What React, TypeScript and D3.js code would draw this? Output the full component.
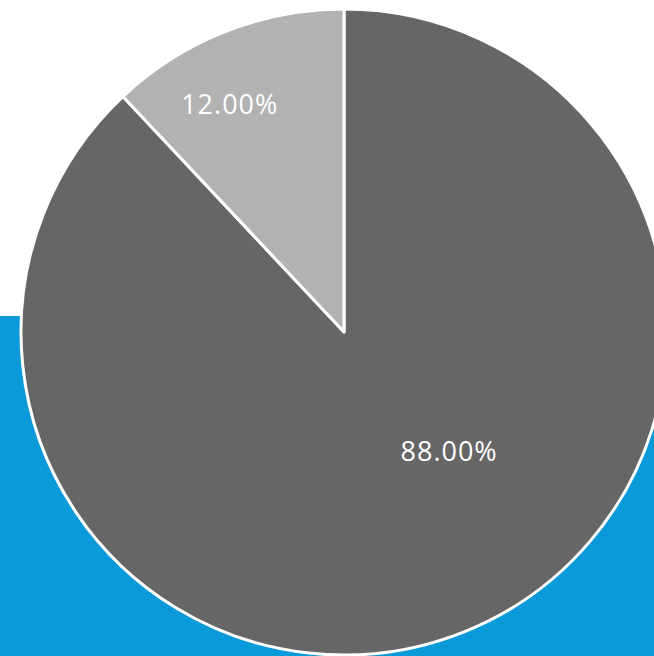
import * as d3 from "d3";
import React from "react";

const categories = ["A", "B"];
const values = [88, 12];
const labels = ["88.00%", "12.00%"];
const colors = ["#666666", "#b2b2b2"];

const width = 654;
const height = 656;
const cx = 344;
const cy = 332;
const radius = 323;

export default function App() {
  const svgRef = React.useRef<SVGSVGElement>(null);

  React.useEffect(() => {
    document.body.style.margin = "0";
    const svg = d3.select(svgRef.current);
    svg.selectAll("*").remove();

    // blue backdrop under the lower half
    svg
      .append("rect")
      .attr("x", 0)
      .attr("y", 316)
      .attr("width", width)
      .attr("height", height - 316)
      .attr("fill", "#0b9ad9");

    const pie = d3
      .pie<number>()
      .sort(null)
      .value((d) => d);
    const arcs = pie(values);

    const arc = d3.arc<d3.PieArcDatum<number>>().innerRadius(0).outerRadius(radius);

    const g = svg.append("g").attr("transform", `translate(${cx},${cy})`);

    g.selectAll("path")
      .data(arcs)
      .enter()
      .append("path")
      .attr("d", arc)
      .attr("fill", (_, i) => colors[i])
      .attr("stroke", "#ffffff")
      .attr("stroke-width", 3)
      .attr("stroke-linejoin", "round");

    // label placement (Excel best-fit look): angle shift and radius factor per slice
    const labelShift = [-20, -5];
    const labelRadius = [0.49, 0.79];
    g.selectAll("text")
      .data(arcs)
      .enter()
      .append("text")
      .attr("transform", (d, i) => {
        const a = (d.startAngle + d.endAngle) / 2 + (labelShift[i] * Math.PI) / 180;
        const r = radius * labelRadius[i];
        return `translate(${r * Math.sin(a)},${-r * Math.cos(a)})`;
      })
      .attr("text-anchor", "middle")
      .attr("dominant-baseline", "central")
      .attr("fill", "#ffffff")
      .attr("font-family", "'Open Sans', sans-serif")
      .attr("font-size", 27)
      .attr("letter-spacing", 1)
      .text((_, i) => labels[i])
      .append("title")
      .text((_, i) => categories[i]);
  }, []);

  return (
    <svg
      ref={svgRef}
      width={width}
      height={height}
      viewBox={`0 0 ${width} ${height}`}
      style={{ display: "block" }}
    ></svg>
  );
}
